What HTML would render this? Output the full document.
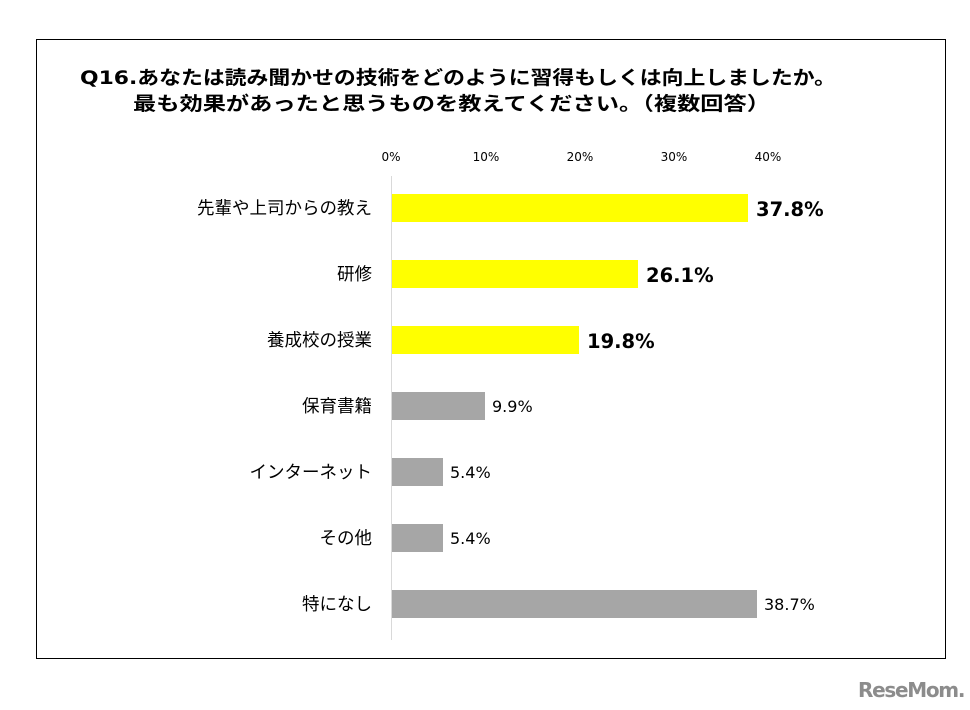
<!DOCTYPE html>
<html><head><meta charset="utf-8"><style>
body{margin:0;background:#fff;}
svg{display:block;font-family:"DejaVu Sans","Noto Sans CJK JP",sans-serif;}
</style></head><body>
<svg width="970" height="710" viewBox="0 0 970 710" xmlns="http://www.w3.org/2000/svg">
<rect width="970" height="710" fill="#fff"/>
<rect x="36.5" y="39.5" width="909" height="619" fill="none" stroke="#000" stroke-width="1"/>
<text x="80" y="84" font-size="19" font-weight="bold" fill="#000" textLength="756" lengthAdjust="spacingAndGlyphs">Q16.あなたは読み聞かせの技術をどのように習得もしくは向上しましたか。</text>
<text x="133" y="110" font-size="19" font-weight="bold" fill="#000" textLength="637" lengthAdjust="spacingAndGlyphs">最も効果があったと思うものを教えてください。（複数回答）</text>
<g font-size="12" fill="#000" text-anchor="middle">
<text x="391" y="161">0%</text><text x="486" y="161">10%</text><text x="580" y="161">20%</text><text x="674" y="161">30%</text><text x="768" y="161">40%</text>
</g>
<line x1="391.5" y1="176" x2="391.5" y2="640" stroke="#d9d9d9" stroke-width="1"/>
<g>
<rect x="392" y="194" width="356" height="28" fill="#ffff00"/>
<rect x="392" y="260" width="246" height="28" fill="#ffff00"/>
<rect x="392" y="326" width="187" height="28" fill="#ffff00"/>
<rect x="392" y="392" width="93" height="28" fill="#a6a6a6"/>
<rect x="392" y="458" width="51" height="28" fill="#a6a6a6"/>
<rect x="392" y="524" width="51" height="28" fill="#a6a6a6"/>
<rect x="392" y="590" width="365" height="28" fill="#a6a6a6"/>
</g>
<g font-size="17.5" fill="#000" text-anchor="end">
<text x="372" y="214">先輩や上司からの教え</text>
<text x="372" y="280">研修</text>
<text x="372" y="346">養成校の授業</text>
<text x="372" y="412">保育書籍</text>
<text x="372" y="478">インターネット</text>
<text x="372" y="544">その他</text>
<text x="372" y="610">特になし</text>
</g>
<g font-size="19.5" font-weight="bold" fill="#000">
<text x="756" y="216">37.8%</text>
<text x="646" y="282">26.1%</text>
<text x="587" y="348">19.8%</text>
</g>
<g font-size="16" fill="#000">
<text x="492" y="412">9.9%</text>
<text x="450" y="478">5.4%</text>
<text x="450" y="544">5.4%</text>
<text x="764" y="610">38.7%</text>
</g>
<text x="858" y="697" font-size="20" font-weight="bold" fill="#8c8c8c" letter-spacing="-1.3">ReseMom.</text>
</svg>
</body></html>
